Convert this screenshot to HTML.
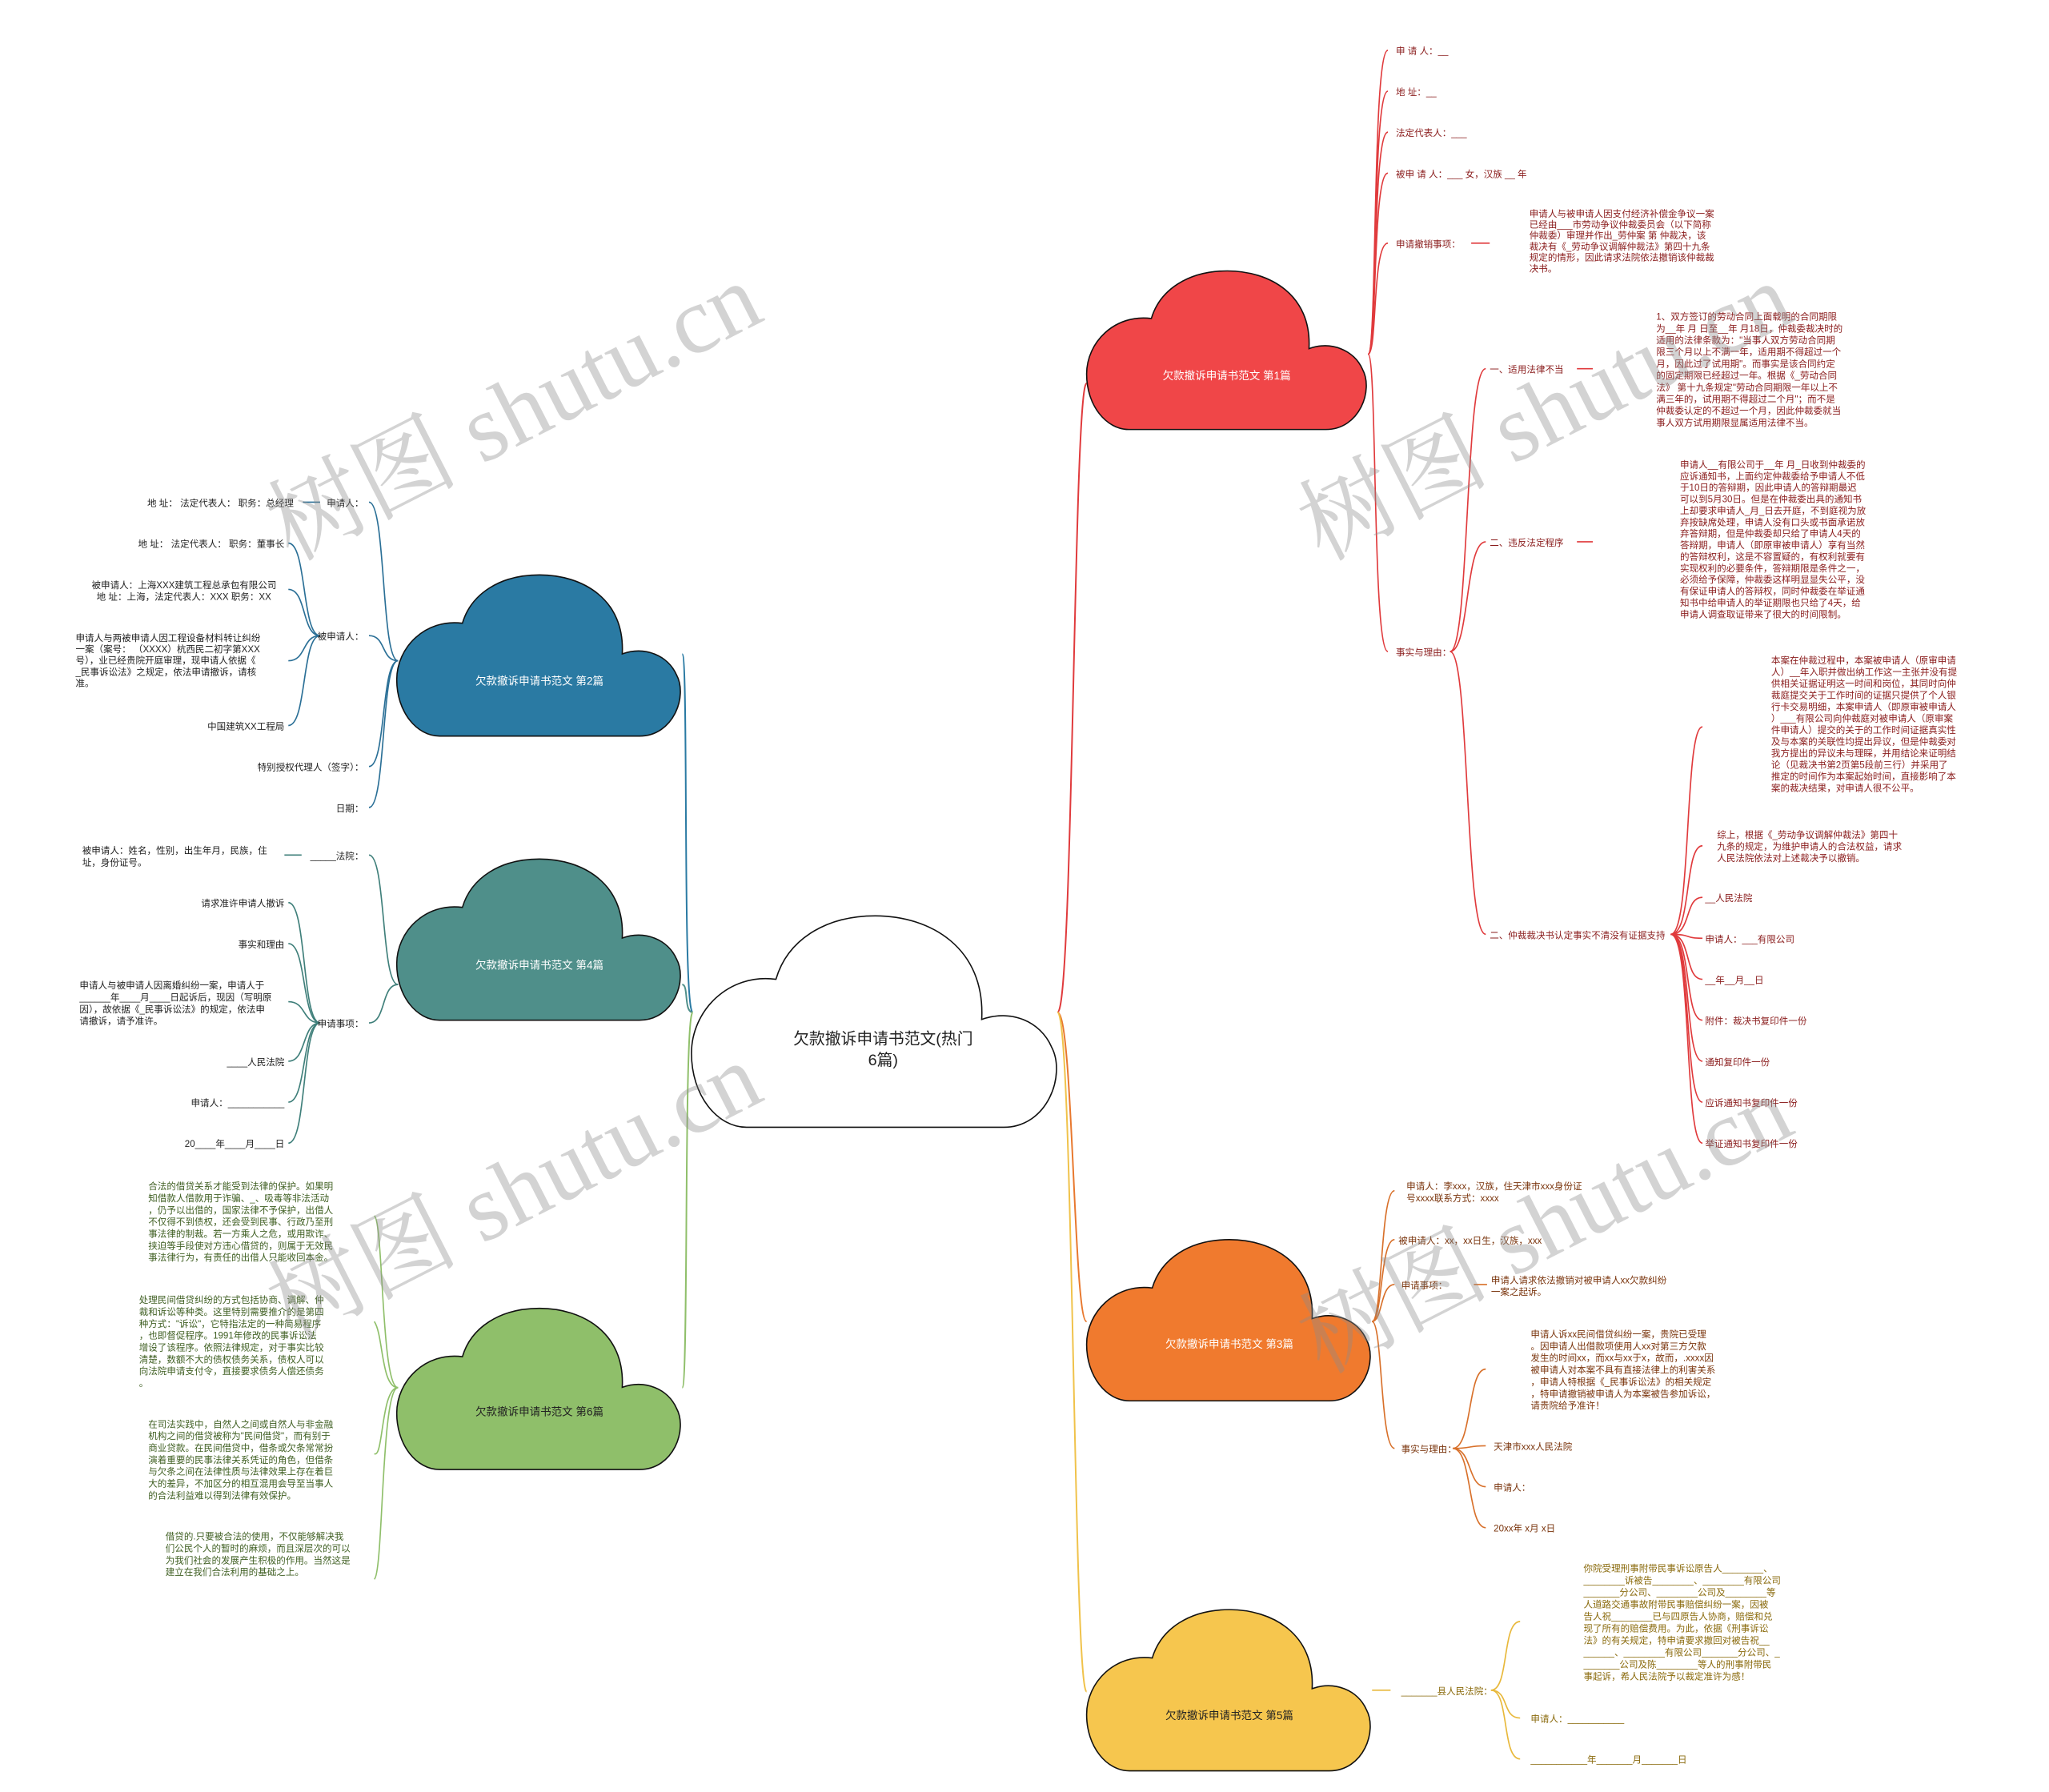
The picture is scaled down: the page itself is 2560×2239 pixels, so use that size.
<!DOCTYPE html>
<html><head><meta charset="utf-8"><style>
html,body{margin:0;padding:0;background:#fff;}
svg{display:block;}
text{font-family:"Liberation Sans","Noto Sans CJK SC",sans-serif;}
.wm{font-family:"Liberation Serif","Noto Serif CJK SC",serif;font-size:72px;fill:rgba(140,140,140,0.38);}
.r{fill:#8a1c1c;font-size:7px;}
.b{fill:#222;font-size:7px;}
.g{fill:#3f5f22;font-size:7px;}
.o{fill:#7a340c;font-size:7px;}
.y{fill:#8a6a0c;font-size:7px;}
.cl{fill:#fff;font-size:8.2px;}
.cd{fill:#222;font-size:8.2px;}
.cp{stroke:#111;stroke-width:1.6;}
</style></head><body>
<svg width="2560" height="2239" viewBox="0 0 1550 1356" xmlns="http://www.w3.org/2000/svg">

<!-- center connectors -->
<g fill="none" stroke-width="1.2">
<path d="M524 766 C516 766 521 495 516 495" stroke="#2a7aa3"/>
<path d="M524 766 C517 766 521 745 516 745" stroke="#4f8f8a"/>
<path d="M524 766 C517 766 521 1050 516 1050" stroke="#8fbf6a"/>
<path d="M800 766 C812 766 812 290 822 290" stroke="#e03a3c"/>
<path d="M800 766 C812 766 812 1000 822 1000" stroke="#e8782e"/>
<path d="M800 766 C812 766 812 1280 822 1280" stroke="#f0c24a"/>
</g>

<!-- clouds -->
<g transform="translate(523,693) scale(278,160)"><path class="cp" vector-effect="non-scaling-stroke" fill="#ffffff" d="M0.15,1 L0.85,1 C0.97,1 1.02,0.75 0.98,0.62 C0.95,0.5 0.87,0.44 0.79,0.49 C0.8,0.15 0.65,0 0.5,0 C0.36,0 0.26,0.12 0.23,0.3 C0.1,0.27 0,0.45 0,0.65 C0,0.85 0.07,1 0.15,1 Z"/></g>
<g transform="translate(822,205) scale(213,120)"><path class="cp" vector-effect="non-scaling-stroke" fill="#f04648" d="M0.15,1 L0.85,1 C0.97,1 1.02,0.75 0.98,0.62 C0.95,0.5 0.87,0.44 0.79,0.49 C0.8,0.15 0.65,0 0.5,0 C0.36,0 0.26,0.12 0.23,0.3 C0.1,0.27 0,0.45 0,0.65 C0,0.85 0.07,1 0.15,1 Z"/></g>
<g transform="translate(300,435) scale(216,122)"><path class="cp" vector-effect="non-scaling-stroke" fill="#2a7aa3" d="M0.15,1 L0.85,1 C0.97,1 1.02,0.75 0.98,0.62 C0.95,0.5 0.87,0.44 0.79,0.49 C0.8,0.15 0.65,0 0.5,0 C0.36,0 0.26,0.12 0.23,0.3 C0.1,0.27 0,0.45 0,0.65 C0,0.85 0.07,1 0.15,1 Z"/></g>
<g transform="translate(300,650) scale(216,122)"><path class="cp" vector-effect="non-scaling-stroke" fill="#4f8f8a" d="M0.15,1 L0.85,1 C0.97,1 1.02,0.75 0.98,0.62 C0.95,0.5 0.87,0.44 0.79,0.49 C0.8,0.15 0.65,0 0.5,0 C0.36,0 0.26,0.12 0.23,0.3 C0.1,0.27 0,0.45 0,0.65 C0,0.85 0.07,1 0.15,1 Z"/></g>
<g transform="translate(300,990) scale(216,122)"><path class="cp" vector-effect="non-scaling-stroke" fill="#8fbf6a" d="M0.15,1 L0.85,1 C0.97,1 1.02,0.75 0.98,0.62 C0.95,0.5 0.87,0.44 0.79,0.49 C0.8,0.15 0.65,0 0.5,0 C0.36,0 0.26,0.12 0.23,0.3 C0.1,0.27 0,0.45 0,0.65 C0,0.85 0.07,1 0.15,1 Z"/></g>
<g transform="translate(822,938) scale(216,122)"><path class="cp" vector-effect="non-scaling-stroke" fill="#f07a2e" d="M0.15,1 L0.85,1 C0.97,1 1.02,0.75 0.98,0.62 C0.95,0.5 0.87,0.44 0.79,0.49 C0.8,0.15 0.65,0 0.5,0 C0.36,0 0.26,0.12 0.23,0.3 C0.1,0.27 0,0.45 0,0.65 C0,0.85 0.07,1 0.15,1 Z"/></g>
<g transform="translate(822,1218) scale(216,122)"><path class="cp" vector-effect="non-scaling-stroke" fill="#f6c64e" d="M0.15,1 L0.85,1 C0.97,1 1.02,0.75 0.98,0.62 C0.95,0.5 0.87,0.44 0.79,0.49 C0.8,0.15 0.65,0 0.5,0 C0.36,0 0.26,0.12 0.23,0.3 C0.1,0.27 0,0.45 0,0.65 C0,0.85 0.07,1 0.15,1 Z"/></g>

<text x="668" y="790" text-anchor="middle" style="font-size:12px;fill:#222">欠款撤诉申请书范文(热门</text>
<text x="668" y="806" text-anchor="middle" style="font-size:12px;fill:#222">6篇)</text>
<text class="cl" x="928" y="287" text-anchor="middle">欠款撤诉申请书范文 第1篇</text>
<text class="cl" x="408" y="518" text-anchor="middle">欠款撤诉申请书范文 第2篇</text>
<text class="cl" x="408" y="733" text-anchor="middle">欠款撤诉申请书范文 第4篇</text>
<text class="cd" x="408" y="1071" text-anchor="middle">欠款撤诉申请书范文 第6篇</text>
<text class="cl" x="930" y="1020" text-anchor="middle">欠款撤诉申请书范文 第3篇</text>
<text class="cd" x="930" y="1301" text-anchor="middle">欠款撤诉申请书范文 第5篇</text>

<!-- RED branch -->
<g fill="none" stroke="#e03a3c" stroke-width="1">
<path d="M1035 268 C1042 268 1038 38 1050 38"/>
<path d="M1035 268 C1042 268 1038 69 1050 69"/>
<path d="M1035 268 C1042 268 1038 100 1050 100"/>
<path d="M1035 268 C1042 268 1038 131 1050 131"/>
<path d="M1035 268 C1042 268 1038 184 1050 184"/>
<path d="M1035 268 C1042 268 1038 493 1050 493"/>
<path d="M1113 184 L1127 184"/>
<path d="M1097 493 C1112 493 1108 279 1124 279"/>
<path d="M1097 493 C1112 493 1108 410 1124 410"/>
<path d="M1097 493 C1112 493 1108 707 1124 707"/>
<path d="M1193 279 L1205 279"/>
<path d="M1193 410 L1205 410"/>
<path d="M1264 707 C1280 707 1274 550 1288 550"/>
<path d="M1264 707 C1280 707 1274 640 1288 640"/>
<path d="M1264 707 C1280 707 1274 679 1288 679"/>
<path d="M1264 707 C1280 707 1274 710 1288 710"/>
<path d="M1264 707 C1280 707 1274 741 1288 741"/>
<path d="M1264 707 C1280 707 1274 772 1288 772"/>
<path d="M1264 707 C1280 707 1274 803 1288 803"/>
<path d="M1264 707 C1280 707 1274 834 1288 834"/>
<path d="M1264 707 C1280 707 1274 865 1288 865"/>
</g>
<g>
<text x="1056" y="41" class="r">申 请 人：__</text>
<text x="1056" y="72" class="r">地 址：__</text>
<text x="1056" y="103" class="r">法定代表人：___</text>
<text x="1056" y="134" class="r">被申 请 人：___ 女，汉族 __ 年</text>
<text x="1056" y="187" class="r">申请撤销事项：</text>
<text x="1056" y="496" class="r">事实与理由：</text>
<text x="1127" y="282" class="r">一、适用法律不当</text>
<text x="1127" y="413" class="r">二、违反法定程序</text>
<text x="1127" y="710" class="r">二、仲裁裁决书认定事实不清没有证据支持</text>
<text class="r" x="1157" y="164"><tspan x="1157">申请人与被申请人因支付经济补偿金争议一案</tspan><tspan x="1157" dy="8.3">已经由___市劳动争议仲裁委员会（以下简称</tspan><tspan x="1157" dy="8.3">仲裁委）审理并作出_劳仲案 第 仲裁决，该</tspan><tspan x="1157" dy="8.3">裁决有《_劳动争议调解仲裁法》第四十九条</tspan><tspan x="1157" dy="8.3">规定的情形，因此请求法院依法撤销该仲裁裁</tspan><tspan x="1157" dy="8.3">决书。</tspan></text>
<text class="r" x="1253" y="242"><tspan x="1253">1、双方签订的劳动合同上面载明的合同期限</tspan><tspan x="1253" dy="8.9">为__年 月 日至__年 月18日，仲裁委裁决时的</tspan><tspan x="1253" dy="8.9">适用的法律条款为："当事人双方劳动合同期</tspan><tspan x="1253" dy="8.9">限三个月以上不满一年，适用期不得超过一个</tspan><tspan x="1253" dy="8.9">月，因此过了试用期"。而事实是该合同约定</tspan><tspan x="1253" dy="8.9">的固定期限已经超过一年。根据《_劳动合同</tspan><tspan x="1253" dy="8.9">法》 第十九条规定"劳动合同期限一年以上不</tspan><tspan x="1253" dy="8.9">满三年的，试用期不得超过二个月"；而不是</tspan><tspan x="1253" dy="8.9">仲裁委认定的不超过一个月，因此仲裁委就当</tspan><tspan x="1253" dy="8.9">事人双方试用期限显属适用法律不当。</tspan></text>
<text class="r" x="1271" y="354"><tspan x="1271">申请人__有限公司于__年 月_日收到仲裁委的</tspan><tspan x="1271" dy="8.7">应诉通知书，上面约定仲裁委给予申请人不低</tspan><tspan x="1271" dy="8.7">于10日的答辩期，因此申请人的答辩期最迟</tspan><tspan x="1271" dy="8.7">可以到5月30日。但是在仲裁委出具的通知书</tspan><tspan x="1271" dy="8.7">上却要求申请人_月_日去开庭，不到庭视为放</tspan><tspan x="1271" dy="8.7">弃按缺席处理，申请人没有口头或书面承诺放</tspan><tspan x="1271" dy="8.7">弃答辩期，但是仲裁委却只给了申请人4天的</tspan><tspan x="1271" dy="8.7">答辩期，申请人（即原审被申请人）享有当然</tspan><tspan x="1271" dy="8.7">的答辩权利，这是不容置疑的，有权利就要有</tspan><tspan x="1271" dy="8.7">实现权利的必要条件，答辩期限是条件之一，</tspan><tspan x="1271" dy="8.7">必须给予保障，仲裁委这样明显显失公平，没</tspan><tspan x="1271" dy="8.7">有保证申请人的答辩权，同时仲裁委在举证通</tspan><tspan x="1271" dy="8.7">知书中给申请人的举证期限也只给了4天，给</tspan><tspan x="1271" dy="8.7">申请人调查取证带来了很大的时间限制。</tspan></text>
<text class="r" x="1340" y="502"><tspan x="1340">本案在仲裁过程中，本案被申请人（原审申请</tspan><tspan x="1340" dy="8.8">人）__年入职并做出纳工作这一主张并没有提</tspan><tspan x="1340" dy="8.8">供相关证据证明这一时间和岗位，其同时向仲</tspan><tspan x="1340" dy="8.8">裁庭提交关于工作时间的证据只提供了个人银</tspan><tspan x="1340" dy="8.8">行卡交易明细，本案申请人（即原审被申请人</tspan><tspan x="1340" dy="8.8">）___有限公司向仲裁庭对被申请人（原审案</tspan><tspan x="1340" dy="8.8">件申请人）提交的关于的工作时间证据真实性</tspan><tspan x="1340" dy="8.8">及与本案的关联性均提出异议，但是仲裁委对</tspan><tspan x="1340" dy="8.8">我方提出的异议未与理睬，并用结论来证明结</tspan><tspan x="1340" dy="8.8">论（见裁决书第2页第5段前三行）并采用了</tspan><tspan x="1340" dy="8.8">推定的时间作为本案起始时间，直接影响了本</tspan><tspan x="1340" dy="8.8">案的裁决结果，对申请人很不公平。</tspan></text>
<text class="r" x="1299" y="634"><tspan x="1299">综上，根据《_劳动争议调解仲裁法》第四十</tspan><tspan x="1299" dy="8.8">九条的规定，为维护申请人的合法权益，请求</tspan><tspan x="1299" dy="8.8">人民法院依法对上述裁决予以撤销。</tspan></text>
<text class="r" x="1290" y="682">__人民法院</text>
<text class="r" x="1290" y="713">申请人：___有限公司</text>
<text class="r" x="1290" y="744">__年__月__日</text>
<text class="r" x="1290" y="775">附件：裁决书复印件一份</text>
<text class="r" x="1290" y="806">通知复印件一份</text>
<text class="r" x="1290" y="837">应诉通知书复印件一份</text>
<text class="r" x="1290" y="868">举证通知书复印件一份</text>
</g>

<!-- BLUE branch -->
<g fill="none" stroke="#2a6f96" stroke-width="1">
<path d="M301 500 C288 500 292 380 279 380"/>
<path d="M301 500 C288 500 292 481 279 481"/>
<path d="M301 500 C288 500 292 580 279 580"/>
<path d="M301 500 C288 500 292 611 279 611"/>
<path d="M229 380 L242 380"/>
<path d="M242 481 C228 481 232 411 218 411"/>
<path d="M242 481 C228 481 232 446 218 446"/>
<path d="M242 481 C228 481 232 500 218 500"/>
<path d="M242 481 C228 481 232 549 218 549"/>
</g>
<g>
<text class="b" x="275" y="383" text-anchor="end">申请人：</text>
<text class="b" x="222" y="383" text-anchor="end">地 址： 法定代表人： 职务：总经理</text>
<text class="b" x="275" y="484" text-anchor="end">被申请人：</text>
<text class="b" x="215" y="414" text-anchor="end">地 址： 法定代表人： 职务：董事长</text>
<text class="b" x="209" y="445" text-anchor="end">被申请人：上海XXX建筑工程总承包有限公司</text>
<text class="b" x="205" y="454" text-anchor="end">地 址：上海，法定代表人：XXX 职务：XX</text>
<text class="b" x="57" y="485"><tspan x="57">申请人与两被申请人因工程设备材料转让纠纷</tspan><tspan x="57" dy="8.6">一案（案号： （XXXX）杭西民二初字第XXX</tspan><tspan x="57" dy="8.6">号），业已经贵院开庭审理，现申请人依据《</tspan><tspan x="57" dy="8.6">_民事诉讼法》之规定，依法申请撤诉，请核</tspan><tspan x="57" dy="8.6">准。</tspan></text>
<text class="b" x="215" y="552" text-anchor="end">中国建筑XX工程局</text>
<text class="b" x="275" y="583" text-anchor="end">特别授权代理人（签字）：</text>
<text class="b" x="275" y="614" text-anchor="end">日期：</text>
</g>

<!-- TEAL branch -->
<g fill="none" stroke="#3f7f7a" stroke-width="1">
<path d="M301 745 C288 745 292 647 279 647"/>
<path d="M301 745 C288 745 292 774 279 774"/>
<path d="M215 647 L228 647"/>
<path d="M242 774 C228 774 232 683 218 683"/>
<path d="M242 774 C228 774 232 714 218 714"/>
<path d="M242 774 C228 774 232 758 218 758"/>
<path d="M242 774 C228 774 232 803 218 803"/>
<path d="M242 774 C228 774 232 834 218 834"/>
<path d="M242 774 C228 774 232 865 218 865"/>
</g>
<g>
<text class="b" x="275" y="650" text-anchor="end">_____法院：</text>
<text class="b" x="62" y="646"><tspan x="62">被申请人：姓名，性别，出生年月，民族，住</tspan><tspan x="62" dy="9">址，身份证号。</tspan></text>
<text class="b" x="275" y="777" text-anchor="end">申请事项：</text>
<text class="b" x="215" y="686" text-anchor="end">请求准许申请人撤诉</text>
<text class="b" x="215" y="717" text-anchor="end">事实和理由</text>
<text class="b" x="60" y="748"><tspan x="60">申请人与被申请人因离婚纠纷一案，申请人于</tspan><tspan x="60" dy="9">______年____月____日起诉后，现因（写明原</tspan><tspan x="60" dy="9">因），故依据《_民事诉讼法》的规定，依法申</tspan><tspan x="60" dy="9">请撤诉，请予准许。</tspan></text>
<text class="b" x="215" y="806" text-anchor="end">____人民法院</text>
<text class="b" x="215" y="837" text-anchor="end">申请人：___________</text>
<text class="b" x="215" y="868" text-anchor="end">20____年____月____日</text>
</g>

<!-- GREEN branch -->
<g fill="none" stroke="#8fbf6a" stroke-width="1">
<path d="M301 1050 C288 1050 290 924 283 920"/>
<path d="M301 1050 C288 1050 290 1010 283 1000"/>
<path d="M301 1050 C288 1050 290 1104 283 1100"/>
<path d="M301 1050 C288 1050 290 1190 283 1195"/>
</g>
<g>
<text class="g" x="112" y="900"><tspan x="112">合法的借贷关系才能受到法律的保护。如果明</tspan><tspan x="112" dy="9">知借款人借款用于诈骗、_、吸毒等非法活动</tspan><tspan x="112" dy="9">，仍予以出借的，国家法律不予保护，出借人</tspan><tspan x="112" dy="9">不仅得不到债权，还会受到民事、行政乃至刑</tspan><tspan x="112" dy="9">事法律的制裁。若一方乘人之危，或用欺诈、</tspan><tspan x="112" dy="9">挟迫等手段使对方违心借贷的，则属于无效民</tspan><tspan x="112" dy="9">事法律行为，有责任的出借人只能收回本金。</tspan></text>
<text class="g" x="105" y="986"><tspan x="105">处理民间借贷纠纷的方式包括协商、调解、仲</tspan><tspan x="105" dy="9">裁和诉讼等种类。这里特别需要推介的是第四</tspan><tspan x="105" dy="9">种方式："诉讼"，它特指法定的一种简易程序</tspan><tspan x="105" dy="9">，也即督促程序。1991年修改的民事诉讼法</tspan><tspan x="105" dy="9">增设了该程序。依照法律规定，对于事实比较</tspan><tspan x="105" dy="9">清楚，数额不大的债权债务关系，债权人可以</tspan><tspan x="105" dy="9">向法院申请支付令，直接要求债务人偿还债务</tspan><tspan x="105" dy="9">。</tspan></text>
<text class="g" x="112" y="1080"><tspan x="112">在司法实践中，自然人之间或自然人与非金融</tspan><tspan x="112" dy="9">机构之间的借贷被称为"民间借贷"，而有别于</tspan><tspan x="112" dy="9">商业贷款。在民间借贷中，借条或欠条常常扮</tspan><tspan x="112" dy="9">演着重要的民事法律关系凭证的角色，但借条</tspan><tspan x="112" dy="9">与欠条之间在法律性质与法律效果上存在着巨</tspan><tspan x="112" dy="9">大的差异，不加区分的相互混用会导至当事人</tspan><tspan x="112" dy="9">的合法利益难以得到法律有效保护。</tspan></text>
<text class="g" x="125" y="1165"><tspan x="125">借贷的.只要被合法的使用，不仅能够解决我</tspan><tspan x="125" dy="9">们公民个人的暂时的麻烦，而且深层次的可以</tspan><tspan x="125" dy="9">为我们社会的发展产生积极的作用。当然这是</tspan><tspan x="125" dy="9">建立在我们合法利用的基础之上。</tspan></text>
</g>

<!-- ORANGE branch -->
<g fill="none" stroke="#d8702a" stroke-width="1">
<path d="M1038 1000 C1046 1000 1044 901 1055 901"/>
<path d="M1038 1000 C1046 1000 1044 938 1055 938"/>
<path d="M1038 1000 C1046 1000 1044 972 1055 972"/>
<path d="M1038 1000 C1046 1000 1044 1096 1055 1096"/>
<path d="M1115 972 L1125 972"/>
<path d="M1099 1096 C1114 1096 1110 1036 1124 1036"/>
<path d="M1099 1096 C1114 1096 1110 1094 1124 1094"/>
<path d="M1099 1096 C1114 1096 1110 1125 1124 1125"/>
<path d="M1099 1096 C1114 1096 1110 1156 1124 1156"/>
</g>
<g>
<text class="o" x="1064" y="900"><tspan x="1064">申请人：李xxx，汉族，住天津市xxx身份证</tspan><tspan x="1064" dy="9">号xxxx联系方式：xxxx</tspan></text>
<text class="o" x="1058" y="941">被申请人：xx，xx日生，汉族，xxx</text>
<text class="o" x="1060" y="975">申请事项：</text>
<text class="o" x="1128" y="971"><tspan x="1128">申请人请求依法撤销对被申请人xx欠款纠纷</tspan><tspan x="1128" dy="9">一案之起诉。</tspan></text>
<text class="o" x="1060" y="1099">事实与理由：</text>
<text class="o" x="1158" y="1012"><tspan x="1158">申请人诉xx民间借贷纠纷一案，贵院已受理</tspan><tspan x="1158" dy="9">。因申请人出借款项使用人xx对第三方欠款</tspan><tspan x="1158" dy="9">发生的时间xx，而xx与xx于x，故而，.xxxx因</tspan><tspan x="1158" dy="9">被申请人对本案不具有直接法律上的利害关系</tspan><tspan x="1158" dy="9">，申请人特根据《_民事诉讼法》的相关规定</tspan><tspan x="1158" dy="9">，特申请撤销被申请人为本案被告参加诉讼，</tspan><tspan x="1158" dy="9">请贵院给予准许！</tspan></text>
<text class="o" x="1130" y="1097">天津市xxx人民法院</text>
<text class="o" x="1130" y="1128">申请人：</text>
<text class="o" x="1130" y="1159">20xx年 x月 x日</text>
</g>

<!-- YELLOW branch -->
<g fill="none" stroke="#e8b83a" stroke-width="1">
<path d="M1038 1279 L1052 1279"/>
<path d="M1128 1279 C1142 1279 1136 1227 1150 1227"/>
<path d="M1128 1279 C1142 1279 1136 1300 1150 1300"/>
<path d="M1128 1279 C1142 1279 1136 1331 1150 1331"/>
</g>
<g>
<text class="y" x="1060" y="1282">_______县人民法院：</text>
<text class="y" x="1198" y="1189"><tspan x="1198">你院受理刑事附带民事诉讼原告人________、</tspan><tspan x="1198" dy="9.1">________诉被告________、________有限公司</tspan><tspan x="1198" dy="9.1">_______分公司、________公司及________等</tspan><tspan x="1198" dy="9.1">人道路交通事故附带民事赔偿纠纷一案，因被</tspan><tspan x="1198" dy="9.1">告人祝________已与四原告人协商，赔偿和兑</tspan><tspan x="1198" dy="9.1">现了所有的赔偿费用。为此，依据《刑事诉讼</tspan><tspan x="1198" dy="9.1">法》的有关规定，特申请要求撤回对被告祝__</tspan><tspan x="1198" dy="9.1">______、________有限公司_______分公司、_</tspan><tspan x="1198" dy="9.1">_______公司及陈________等人的刑事附带民</tspan><tspan x="1198" dy="9.1">事起诉，希人民法院予以裁定准许为感！</tspan></text>
<text class="y" x="1158" y="1303">申请人：___________</text>
<text class="y" x="1158" y="1334">___________年_______月_______日</text>
</g>

<!-- watermarks -->
<text class="wm" transform="translate(220,425) rotate(-27)">树图 shutu.cn</text>
<text class="wm" transform="translate(220,1015) rotate(-27)">树图 shutu.cn</text>
<text class="wm" transform="translate(1000,425) rotate(-27)">树图 shutu.cn</text>
<text class="wm" transform="translate(1000,1040) rotate(-27)">树图 shutu.cn</text>
</svg>
</body></html>
